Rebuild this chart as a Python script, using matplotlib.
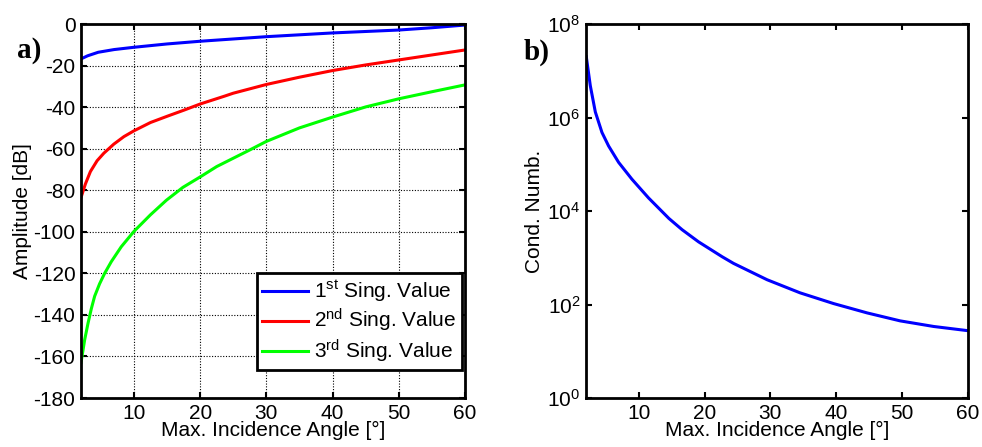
import matplotlib.pyplot as plt
import numpy as np

plt.rcParams['font.family'] = ['Liberation Sans', 'DejaVu Sans']
plt.rcParams['mathtext.default'] = 'regular'
plt.rcParams['axes.unicode_minus'] = False

# singular values in dB vs max incidence angle
angle_sv1 = [2, 3, 4.6, 7, 10, 15, 20, 25, 30, 40, 50, 55, 60]
sv1 = [-16.8, -15.3, -13.6, -12.3, -11.2, -9.6, -8.3, -7.2, -6.1, -4.3, -2.9,
       -1.8, -0.5]

angle_sv2 = [2, 2.66, 3.42, 4.43, 5.44, 6.96, 8.48, 10, 12.5, 15.1, 17.6, 20,
             23.7, 25, 30, 35, 40, 45, 50, 55, 60]
sv2 = [-83.5, -77, -71, -65.8, -62.2, -57.8, -54.2, -51.4, -47.4, -44.3, -41.4,
       -38.5, -34.7, -33.3, -29.1, -25.6, -22.4, -19.7, -17.3, -14.9, -12.5]

angle_sv3 = [2, 2.55, 3.06, 3.56, 4.06, 4.81, 5.57, 6.57, 8.08, 10, 12.5, 14.9,
             17.4, 20, 22.5, 25, 27.5, 30, 35, 40, 45, 50, 55, 60]
sv3 = [-163, -152, -144, -137, -131, -125, -120, -114.4, -107.2, -99.8, -91.8,
       -84.8, -78.6, -73.6, -68.6, -64.6, -60.6, -56.5, -50, -44.8, -39.9, -36,
       -32.6, -29.3]

# condition number (log10) vs max incidence angle
angle_cn = [2.05, 2.66, 3.42, 4.43, 5.44, 6.96, 8.98, 11.5, 14.6, 16.6, 19.1,
            22.7, 24.4, 29.5, 34.5, 39.6, 44.7, 49.7, 54.8, 60]
cond_log = [7.30, 6.68, 6.12, 5.68, 5.39, 5.04, 4.68, 4.28, 3.84, 3.60, 3.34,
            3.02, 2.88, 2.53, 2.25, 2.02, 1.82, 1.65, 1.53, 1.44]

sv_labels = [r"1$^{st}$ Sing. Value", r"2$^{nd}$ Sing. Value", r"3$^{rd}$ Sing. Value"]
colors = ["#0000ff", "#ff0000", "#00ff00"]

fig = plt.figure(figsize=(9.82, 4.47), dpi=100)
ax1 = fig.add_axes([0.0825, 0.1096, 0.391, 0.8367])
ax2 = fig.add_axes([0.5967, 0.1096, 0.389, 0.8367])

series = [(angle_sv1, sv1), (angle_sv2, sv2), (angle_sv3, sv3)]
for (xs, ys), c, lab in zip(series, colors, sv_labels):
    ax1.plot(xs, ys, color=c, lw=2.2, label=lab, solid_joinstyle='round')
ax1.set_xlim(2, 60)
ax1.set_ylim(-180, 0)
ax1.set_xticks([10, 20, 30, 40, 50, 60])
ax1.set_yticks(np.arange(-180, 1, 20))
ax1.grid(True, color='black', linestyle=(0, (1, 1.5)), linewidth=0.8)
ax1.set_xlabel("Max. Incidence Angle [°]", fontsize=15, labelpad=-1)
ax1.set_ylabel("Amplitude [dB]", fontsize=15, labelpad=1)
leg = ax1.legend(loc='lower right', bbox_to_anchor=(0.992, 0.075), fontsize=15,
                 frameon=True, fancybox=False, framealpha=1, edgecolor='black',
                 handlelength=2.2, handletextpad=0.3, borderpad=0.25,
                 labelspacing=0.15, borderaxespad=0)
leg.get_frame().set_linewidth(2)

ax2.semilogy(angle_cn, 10.0 ** np.array(cond_log), color="#0000ff", lw=2.2,
             solid_joinstyle='round')
ax2.set_xlim(2, 60)
ax2.set_ylim(1, 1e8)
ax2.set_xticks([10, 20, 30, 40, 50, 60])
ax2.set_yticks([1e0, 1e2, 1e4, 1e6, 1e8])
ax2.yaxis.set_minor_locator(plt.NullLocator())
ax2.set_xlabel("Max. Incidence Angle [°]", fontsize=15, labelpad=-1)
ax2.set_ylabel("Cond. Numb.", fontsize=15, labelpad=2)

for ax in (ax1, ax2):
    for s in ax.spines.values():
        s.set_linewidth(2)
    ax.tick_params(direction='in', length=4, width=1.5, top=True, right=True,
                   labelsize=15, pad=4)

fig.text(0.017, 0.872, "a)", fontsize=21, fontweight='bold', family='Liberation Serif')
fig.text(0.533, 0.867, "b)", fontsize=21, fontweight='bold', family='Liberation Serif')

fig.savefig("out.png", dpi=100)
